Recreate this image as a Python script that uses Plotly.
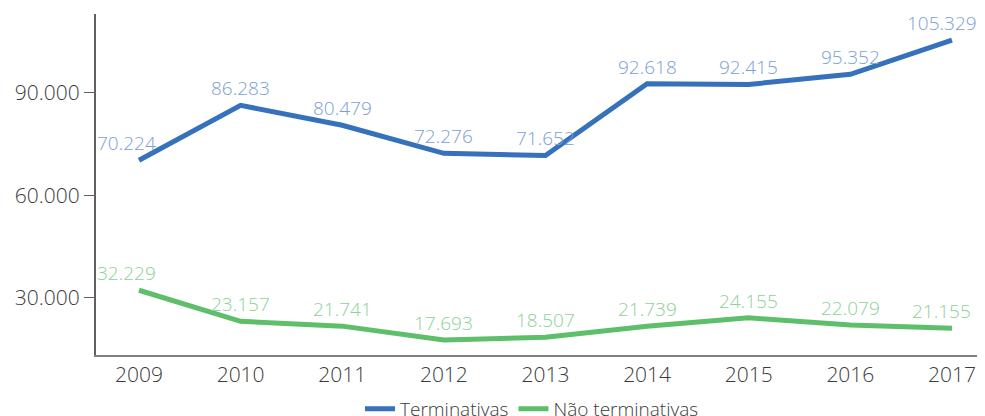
import plotly.graph_objects as go

years = ["2009", "2010", "2011", "2012", "2013", "2014", "2015", "2016", "2017"]
terminativas = [70224, 86283, 80479, 72276, 71652, 92618, 92415, 95352, 105329]
nao_terminativas = [32229, 23157, 21741, 17693, 18507, 21739, 24155, 22079, 21155]
y_ticks = [30000, 60000, 90000]
y_tick_labels = ["30.000", "60.000", "90.000"]

BLUE = "#3671bc"
BLUE_LBL = "#7aa0d6"
GREEN = "#5ebf6b"
GREEN_LBL = "#8bd297"
FONT = "Open Sans"

def fmt(v):
    return f"{v:,}".replace(",", ".")

fig = go.Figure()
fig.add_trace(go.Scatter(x=years, y=terminativas, mode="lines", name="Terminativas",
                         line=dict(color=BLUE, width=5)))
fig.add_trace(go.Scatter(x=years, y=nao_terminativas, mode="lines", name="Não terminativas",
                         line=dict(color=GREEN, width=5)))

shifts = {0: -12, len(years) - 1: -10}
for series, col in ((terminativas, BLUE_LBL), (nao_terminativas, GREEN_LBL)):
    for i, v in enumerate(series):
        fig.add_annotation(x=i, y=v, xref="x", yref="y", text=fmt(v), showarrow=False,
                           yanchor="bottom", yshift=2, xshift=shifts.get(i, 0),
                           font=dict(family=FONT, size=19, color=col, weight=300))

fig.update_layout(
    width=985, height=416,
    margin=dict(l=88, r=8, t=6, b=69, autoexpand=False),
    plot_bgcolor="white", paper_bgcolor="white",
    font=dict(family=FONT, size=21, color="#3a3a3a", weight=300),
    showlegend=True,
    legend=dict(orientation="h", x=0.532, xanchor="center", xref="container",
                y=0.082, yanchor="top", yref="container",
                font=dict(family=FONT, size=19, color="#3a3a3a", weight=300),
                itemwidth=30),
    xaxis=dict(type="category", range=[-0.423, 8.325], showgrid=False, showline=True,
               linecolor="#808080", linewidth=2, ticks="", tickfont=dict(size=21),
               automargin=False),
    yaxis=dict(range=[13300, 113000], tickvals=y_ticks, ticktext=y_tick_labels,
               showgrid=False, showline=True, linecolor="#606060", linewidth=2,
               ticks="outside", ticklen=10, tickcolor="#606060", zeroline=False,
               tickfont=dict(size=21), automargin=False),
)
fig.write_html("out.html")
